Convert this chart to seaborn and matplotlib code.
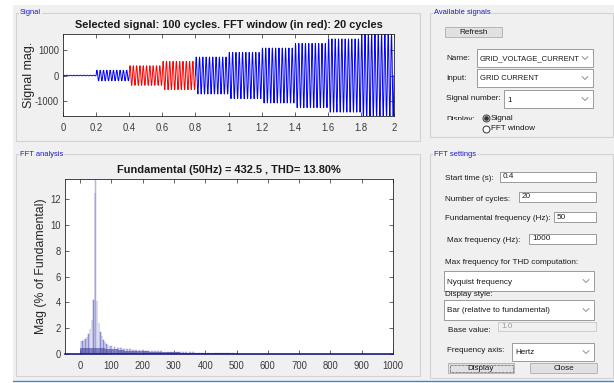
import numpy as np
import pandas as pd
import matplotlib
matplotlib.use("Agg")
import matplotlib.pyplot as plt
import seaborn as sns
from matplotlib import font_manager
from matplotlib.patches import Rectangle
from matplotlib.lines import Line2D

# ---- signal: 50 Hz current, amplitude steps every 0.2 s
f0 = 50
seg_start = [0.0, 0.2, 0.4, 0.6, 0.8, 1.0, 1.2, 1.4, 1.6, 1.8]
seg_amp = [12, 205, 378, 545, 712, 890, 1058, 1237, 1410, 1600]
win_start, win_end = 0.4, 0.8

# ---- FFT bars (% of fundamental)
fund_hz = [50]
fund_pct = [100]
near_hz = [2.5, 7.5, 12.5, 17.5, 22.5, 27.5, 32.5, 37.5, 42.5, 47.5,
           55, 60, 65, 70, 75, 80, 85, 90, 95]
near_pct = [0.98, 1.03, 1.1, 1.2, 1.35, 1.55, 1.9, 2.6, 4.2, 12.5,
            4.1, 2.4, 1.7, 1.4, 1.1, 0.9, 0.8, 0.72, 0.65]
tail_hz = list(range(100, 510, 10))
tail_pct = [0.62, 0.55, 0.5, 0.45, 0.42, 0.38, 0.36, 0.34, 0.32, 0.3,
            0.28, 0.26, 0.25, 0.24, 0.22, 0.21, 0.2, 0.19, 0.18, 0.17,
            0.16, 0.15, 0.14, 0.14, 0.13, 0.12, 0.12, 0.11, 0.1, 0.1,
            0.09, 0.09, 0.08, 0.08, 0.07, 0.07, 0.06, 0.06, 0.05, 0.05, 0.04]
base_hz = list(range(0, 520, 20))
base_pct = [0.48, 0.48, 0.47, 0.45, 0.4, 0.35, 0.3, 0.27, 0.24, 0.22,
            0.2, 0.18, 0.17, 0.15, 0.14, 0.12, 0.11, 0.1, 0.09, 0.08,
            0.07, 0.06, 0.05, 0.04, 0.03, 0.02]

W, H = 614, 383
BG = "#f0f0f0"

installed = {f.name for f in font_manager.fontManager.ttflist}
HAS_NARROW = "Liberation Sans Narrow" in installed
# text in the screenshot is squeezed sideways; narrow face if we have it
NARROW = ["Liberation Sans Narrow"] if HAS_NARROW else ["Liberation Sans"]
SC = 1.0 if HAS_NARROW else 0.86

sns.set_theme(style="white")
plt.rcParams["font.family"] = NARROW + ["DejaVu Sans"]


def fx(x):
    return x / W


def fy(y):
    return 1 - y / H


def main():
    fig = plt.figure(figsize=(W / 100, H / 100), dpi=100)
    fig.patch.set_facecolor("white")

    def rect(x0, y0, x1, y1, **kw):
        r = Rectangle((fx(x0), fy(y1)), (x1 - x0) / W, (y1 - y0) / H,
                      transform=fig.transFigure, **kw)
        fig.add_artist(r)

    def txt(x, y, s, size=6.8, color="#1a1a1a", ha="left", **kw):
        fig.text(fx(x), fy(y), s, fontsize=size * SC, color=color, ha=ha,
                 va="center", **kw)

    def chevron(x, y):
        fig.add_artist(Line2D([fx(x - 3), fx(x), fx(x + 3)],
                              [fy(y - 1.5), fy(y + 1.5), fy(y - 1.5)],
                              transform=fig.transFigure, color="#808080", lw=0.6))

    def panel(x0, y0, x1, y1, label):
        rect(x0, y0, x1, y1, fill=False, ec="#d2d2d2", lw=0.8, zorder=-1)
        txt(x0 + 4, y0, label, size=6.3, color="#1a1acc",
            bbox=dict(fc=BG, ec="none", pad=0.6))

    def combo(x0, y0, x1, y1, s, size=6.8):
        rect(x0, y0, x1, y1, fc="white", ec="#8c8c8c", lw=0.6)
        txt(x0 + 3, (y0 + y1) / 2 + 1, s, size=size)
        chevron(x1 - 8, (y0 + y1) / 2)

    def edit(x0, y0, x1, y1, s, off=False):
        rect(x0, y0, x1, y1, fc=BG if off else "white",
             ec="#c8c8c8" if off else "#8c8c8c", lw=0.6)
        txt(x0 + 3, (y0 + y1) / 2, s, color="#a0a0a0" if off else "#1a1a1a")

    def button(x0, y0, x1, y1, s, focus=False):
        rect(x0, y0, x1, y1, fc="#e1e1e1", ec="#adadad", lw=0.6)
        if focus:
            rect(x0 + 1.5, y0 + 1.5, x1 - 1.5, y1 - 1.5, fill=False,
                 ec="#222222", lw=0.5, ls=(0, (1, 1)))
        txt((x0 + x1) / 2, (y0 + y1) / 2, s, ha="center")

    def radio(x, y, on):
        fig.add_artist(Line2D([fx(x)], [fy(y)], marker="o", ms=5, mfc="white",
                              mec="#333333", mew=0.7, transform=fig.transFigure))
        if on:
            fig.add_artist(Line2D([fx(x)], [fy(y)], marker="o", ms=2.4,
                                  mfc="#333333", mec="#333333",
                                  transform=fig.transFigure))

    # window background and bottom border
    rect(13, 5, W, 381, fc=BG, ec="none", zorder=-2)
    fig.add_artist(Line2D([fx(13), fx(W)], [fy(381), fy(381)],
                          transform=fig.transFigure, color="#2b8fe6", lw=1))

    panel(16, 13, 420, 141, "Signal")
    panel(16, 154, 420, 376, "FFT analysis")
    panel(430, 13, 613, 137, "Available signals")
    panel(430, 154, 613, 378, "FFT settings")

    # ---- signal axes
    ax1 = fig.add_axes([fx(63), fy(116), (394 - 63) / W, (116 - 34) / H])
    t = np.linspace(0, 2, 100 * 16 + 1)
    idx = np.searchsorted(seg_start, t, side="right") - 1
    amp = np.array(seg_amp)[np.clip(idx, 0, len(seg_amp) - 1)]
    sig = pd.DataFrame({"t": t, "y": amp * np.sin(2 * np.pi * f0 * t)})
    pre = sig[sig.t <= win_start]
    win = sig[(sig.t >= win_start) & (sig.t <= win_end)]
    post = sig[sig.t >= win_end]
    for part, col in [(pre, "#0000ff"), (win, "#ff0000"), (post, "#0000ff")]:
        sns.lineplot(data=part, x="t", y="y", ax=ax1, color=col, lw=0.7,
                     estimator=None, errorbar=None, sort=False)
    ax1.set_xlim(0, 2)
    ax1.set_ylim(-1560, 1600)
    ax1.set_xticks(np.arange(0, 2.01, 0.2))
    ax1.set_xticklabels(["0", "0.2", "0.4", "0.6", "0.8", "1", "1.2", "1.4",
                         "1.6", "1.8", "2"])
    ax1.set_yticks([-1000, 0, 1000])
    ax1.set_yticklabels(["-1000", "0", "1000"])
    ax1.set_xlabel("")
    ax1.set_ylabel("Signal mag.", fontsize=9, family=["Liberation Sans"],
                   color="#262626", labelpad=0)
    ax1.set_title("Selected signal: 100 cycles. FFT window (in red): 20 cycles",
                  fontsize=9.2 * SC, fontweight="bold", color="#1a1a1a", pad=4)

    # ---- FFT axes
    ax2 = fig.add_axes([fx(65), fy(354), (393 - 65) / W, (354 - 179) / H])
    fund = pd.DataFrame({"hz": fund_hz, "pct": fund_pct})
    near = pd.DataFrame({"hz": near_hz, "pct": near_pct})
    tail = pd.DataFrame({"hz": tail_hz, "pct": tail_pct})
    base = pd.DataFrame({"hz": base_hz, "pct": base_pct})
    sns.histplot(data=fund, x="hz", weights="pct", binwidth=2.5,
                 binrange=(48.75, 51.25), shrink=0.7, ax=ax2, color="#b8b8ea",
                 edgecolor="#a8a8e2", linewidth=0.3, alpha=0.9)
    sns.histplot(data=near, x="hz", weights="pct", binwidth=2.5,
                 binrange=(1.25, 96.25), shrink=0.6, ax=ax2, color="#a0a0dc",
                 edgecolor="#7070c6", linewidth=0.35, alpha=0.9)
    sns.histplot(data=tail, x="hz", weights="pct", binwidth=10,
                 binrange=(95, 505), shrink=0.6, ax=ax2, color="#b4b4e6",
                 edgecolor="#9696d6", linewidth=0.3, alpha=0.9)
    sns.histplot(data=base, x="hz", weights="pct", binwidth=20,
                 binrange=(0, 520), ax=ax2, color="#40409c",
                 edgecolor="none", alpha=0.6)
    ax2.set_xlim(-48, 1000)
    ax2.set_ylim(0, 13.55)
    ax2.set_xticks(range(0, 1001, 100))
    ax2.set_yticks(range(0, 13, 2))
    ax2.set_xlabel("")
    ax2.set_ylabel("Mag (% of Fundamental)", fontsize=8.8,
                   family=["Liberation Sans"], color="#262626", labelpad=2)
    ax2.set_title("Fundamental (50Hz) = 432.5 , THD= 13.80%", fontsize=9.2 * SC,
                  fontweight="bold", color="#1a1a1a", pad=4)

    for ax in (ax1, ax2):
        ax.set_zorder(2)
        ax.set_facecolor("white")
        for sp in ax.spines.values():
            sp.set_color("#262626")
            sp.set_linewidth(0.6)
        ax.tick_params(direction="in", length=3, width=0.5, color="#262626",
                       labelsize=8 * SC, labelcolor="#3a3a3a", top=True,
                       right=True, bottom=True, left=True)
        ax.tick_params(axis="x", pad=5)
        ax.tick_params(axis="y", pad=3)
    ax2.spines["bottom"].set_color("#1a1a80")
    ax2.spines["bottom"].set_linewidth(1.2)

    # ---- available signals controls
    button(445, 27, 502, 37, "Refresh")
    txt(446, 58, "Name:")
    combo(477, 49, 593, 67, "GRID_VOLTAGE_CURRENT", size=6.4)
    txt(446, 78, "Input:")
    combo(477, 69, 593, 87, "GRID CURRENT", size=6.4)
    txt(446, 99, "Signal number:")
    combo(504, 90, 593, 108, "1")
    # "Display:" label is half hidden behind the radio group in the original
    txt(446, 119.5, "Display:")
    rect(440, 120.3, 480, 126, fc=BG, ec="none", zorder=5)
    radio(486, 118, True)
    txt(491, 118, "Signal")
    radio(486, 129, False)
    txt(491, 129, "FFT window")

    # ---- FFT settings controls
    txt(445, 178, "Start time (s):")
    edit(500, 172, 596, 182, "0.4")
    txt(445, 199, "Number of cycles:")
    edit(519, 192, 596, 202, "20")
    txt(445, 219, "Fundamental frequency (Hz):")
    edit(554, 212, 596, 222, "50")
    txt(447, 241, "Max frequency (Hz):")
    edit(529, 234, 596, 244, "1000")
    txt(445, 263, "Max frequency for THD computation:")
    combo(444, 271, 594, 291, "Nyquist frequency")
    txt(445, 294, "Display style:")
    combo(444, 300, 594, 320, "Bar (relative to fundamental)")
    txt(448, 330, "Base value:")
    edit(498, 322, 596, 331, "1.0", off=True)
    txt(447, 350, "Frequency axis:")
    combo(512, 343, 594, 361, "Hertz")
    button(448, 363, 514, 373, "Display", focus=True)
    button(530, 363, 597, 373, "Close")

    fig.savefig("out.png", dpi=100)


if __name__ == "__main__":
    main()
